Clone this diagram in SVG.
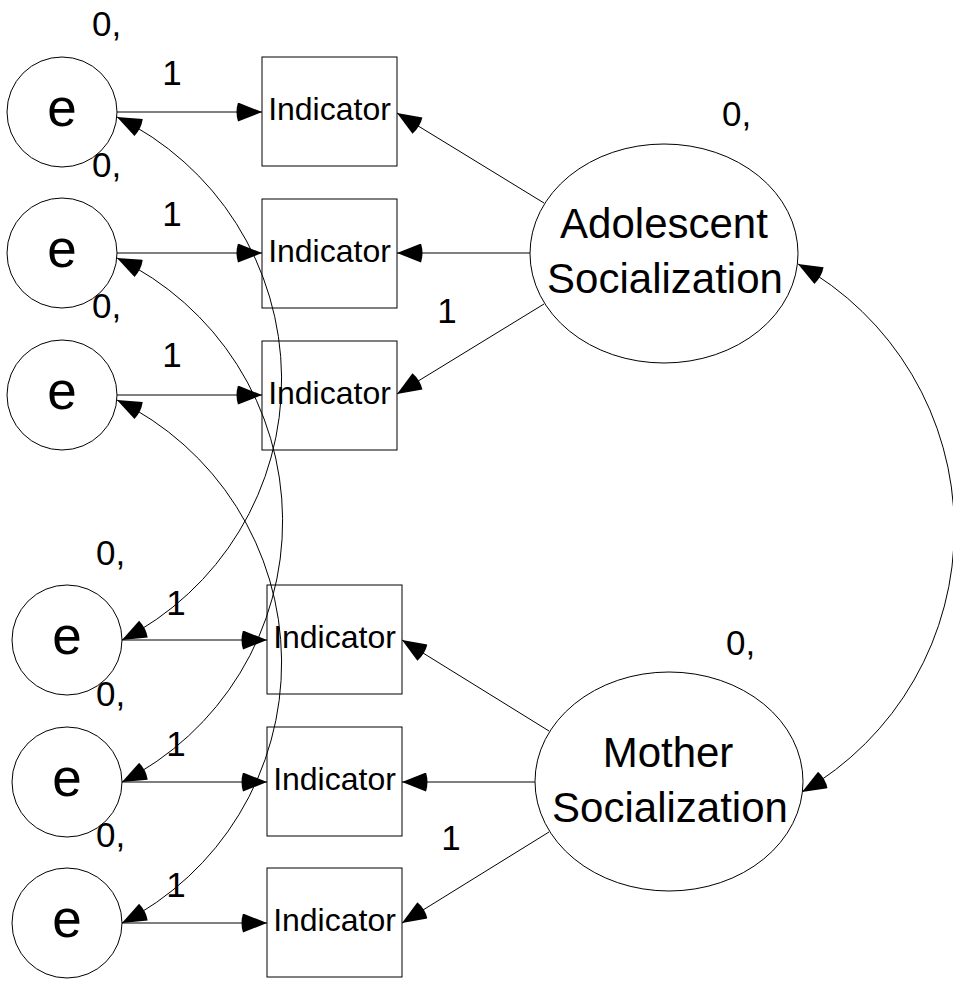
<svg xmlns="http://www.w3.org/2000/svg" width="953" height="981" viewBox="0 0 953 981">
<defs>
<style>
.shape{fill:#fff;stroke:#000;stroke-width:1}
.con{fill:none;stroke:#000;stroke-width:1}
text{font-family:"Liberation Sans",Arial,sans-serif;fill:#000}
.ind{font-size:32px;text-anchor:middle}
.err{font-size:53px;text-anchor:middle}
.lat{font-size:42px;text-anchor:middle}
.lbl{font-size:35px}
.one{font-size:35px;text-anchor:middle}
</style>
<marker id="arr" viewBox="0 0 26 19" refX="26" refY="9.5" markerWidth="26" markerHeight="19" markerUnits="userSpaceOnUse" orient="auto-start-reverse">
<path d="M2,0 L26,9.5 L2,19 Q-1,9.5 2,0 Z" fill="#000"/>
</marker>
</defs>
<rect width="953" height="981" fill="#fff"/>

<g id="connectors">
<line class="con" x1="117" y1="112" x2="262" y2="112" marker-end="url(#arr)"/>
<line class="con" x1="117" y1="253" x2="262" y2="253" marker-end="url(#arr)"/>
<line class="con" x1="117" y1="395" x2="262" y2="395" marker-end="url(#arr)"/>
<line class="con" x1="122" y1="640" x2="267" y2="640" marker-end="url(#arr)"/>
<line class="con" x1="122" y1="782" x2="267" y2="782" marker-end="url(#arr)"/>
<line class="con" x1="122" y1="923" x2="267" y2="923" marker-end="url(#arr)"/>
<line class="con" x1="544" y1="203" x2="397" y2="113" marker-end="url(#arr)"/>
<line class="con" x1="530" y1="253" x2="397" y2="253" marker-end="url(#arr)"/>
<line class="con" x1="544" y1="304" x2="397" y2="394" marker-end="url(#arr)"/>
<line class="con" x1="549" y1="731" x2="402" y2="640" marker-end="url(#arr)"/>
<line class="con" x1="535" y1="782" x2="402" y2="782" marker-end="url(#arr)"/>
<line class="con" x1="549" y1="832" x2="402" y2="923" marker-end="url(#arr)"/>
<path class="con" d="M117,117 A292,292 0 0 1 122,640" marker-start="url(#arr)" marker-end="url(#arr)"/>
<path class="con" d="M117,258 A292,292 0 0 1 122,782" marker-start="url(#arr)" marker-end="url(#arr)"/>
<path class="con" d="M117,400 A292,292 0 0 1 122,923" marker-start="url(#arr)" marker-end="url(#arr)"/>
<path class="con" d="M798,264 A303,303 0 0 1 802,792" marker-start="url(#arr)" marker-end="url(#arr)"/>
</g>

<g id="e1"><circle class="shape" cx="62" cy="112" r="55" fill-opacity="0"/><text class="err" x="62" y="125.5">e</text></g>
<g id="e2"><circle class="shape" cx="62" cy="253" r="55" fill-opacity="0"/><text class="err" x="62" y="266.5">e</text></g>
<g id="e3"><circle class="shape" cx="62" cy="395" r="55" fill-opacity="0"/><text class="err" x="62" y="408.5">e</text></g>
<g id="e4"><circle class="shape" cx="67" cy="640" r="55" fill-opacity="0"/><text class="err" x="67" y="653.5">e</text></g>
<g id="e5"><circle class="shape" cx="67" cy="782" r="55" fill-opacity="0"/><text class="err" x="67" y="795.5">e</text></g>
<g id="e6"><circle class="shape" cx="67" cy="923" r="55" fill-opacity="0"/><text class="err" x="67" y="936.5">e</text></g>

<g id="ind1"><rect class="shape" x="262" y="57" width="135" height="109" fill-opacity="0"/><text class="ind" x="329.5" y="120">Indicator</text></g>
<g id="ind2"><rect class="shape" x="262" y="199" width="135" height="109" fill-opacity="0"/><text class="ind" x="329.5" y="262">Indicator</text></g>
<g id="ind3"><rect class="shape" x="262" y="341" width="135" height="109" fill-opacity="0"/><text class="ind" x="329.5" y="404">Indicator</text></g>
<g id="ind4"><rect class="shape" x="267" y="585" width="135" height="109" fill-opacity="0"/><text class="ind" x="334.5" y="648">Indicator</text></g>
<g id="ind5"><rect class="shape" x="267" y="727" width="135" height="109" fill-opacity="0"/><text class="ind" x="334.5" y="790">Indicator</text></g>
<g id="ind6"><rect class="shape" x="267" y="868" width="135" height="109" fill-opacity="0"/><text class="ind" x="334.5" y="931">Indicator</text></g>

<g id="adolescent"><ellipse class="shape" cx="664" cy="253.5" rx="134" ry="109.5"/><text class="lat" x="664" y="238">Adolescent</text><text class="lat" x="665" y="293">Socialization</text></g>
<g id="mother"><ellipse class="shape" cx="669" cy="781.5" rx="134" ry="109.5"/><text class="lat" x="668" y="767">Mother</text><text class="lat" x="670" y="822">Socialization</text></g>

<g id="labels">
<text class="lbl" x="92" y="36">0,</text>
<text class="lbl" x="92" y="177">0,</text>
<text class="lbl" x="92" y="318">0,</text>
<text class="lbl" x="96" y="565">0,</text>
<text class="lbl" x="96" y="706">0,</text>
<text class="lbl" x="96" y="847">0,</text>
<text class="lbl" x="722" y="126">0,</text>
<text class="lbl" x="726" y="655">0,</text>
<text class="one" x="172" y="85">1</text>
<text class="one" x="172" y="226">1</text>
<text class="one" x="172" y="367">1</text>
<text class="one" x="176" y="615">1</text>
<text class="one" x="176" y="756">1</text>
<text class="one" x="176" y="897">1</text>
<text class="one" x="447" y="323">1</text>
<text class="one" x="451" y="850">1</text>
</g>
</svg>
